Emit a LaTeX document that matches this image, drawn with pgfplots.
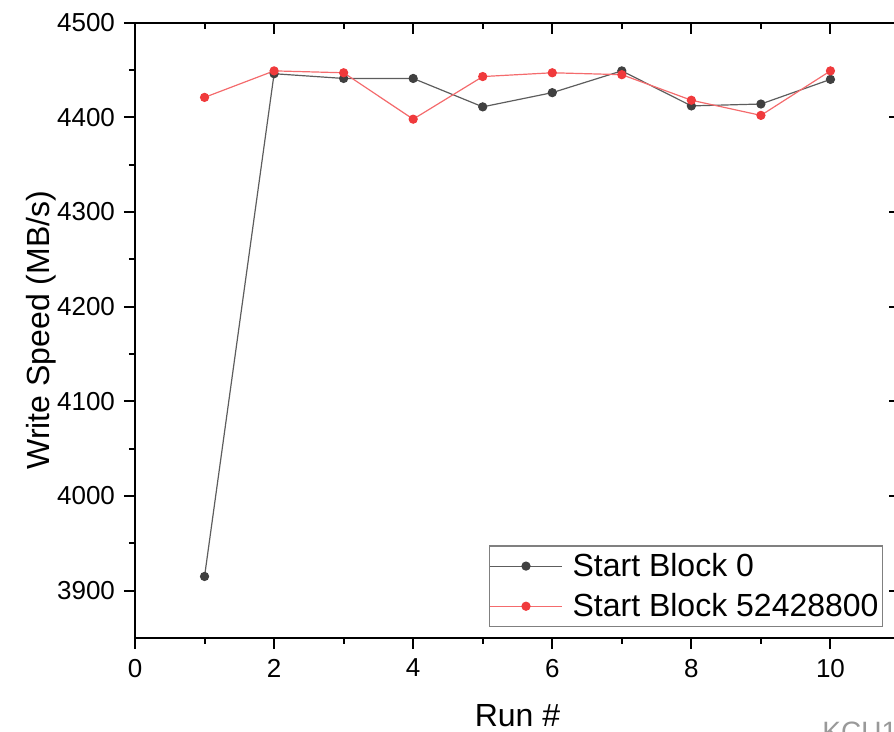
\documentclass[border=0pt]{standalone}
\usepackage{fontspec}
\setmainfont{Liberation Sans}
\usepackage{pgfplots}
\pgfplotsset{compat=1.18}
\definecolor{darkgrey}{RGB}{64,64,64}
\definecolor{runred}{RGB}{240,58,60}

% write speed per run, MB/s
\pgfplotstableread{
run block0 block524
1  3915 4421
2  4446 4449
3  4441 4447
4  4441 4398
5  4411 4443
6  4426 4447
7  4449 4445
8  4412 4418
9  4414 4402
10 4440 4449
}\speeds

\begin{document}
\begin{tikzpicture}
\pgfplotsset{
    frame/.style={
        scale only axis, width=382.5bp, height=307.7bp,
        xmin=0, xmax=11, ymin=3850, ymax=4500,
        xtick={0,2,...,10}, ytick={3900,4000,...,4500},
        minor x tick num=1, minor y tick num=1,
        axis line style={line width=1bp},
        every tick/.style={line width=1bp, black},
        major tick length=5.5bp, minor tick length=3bp,
    }
}
% mirrored top and right edges, ticks pointing in
\begin{axis}[frame, axis x line*=top, axis y line*=right,
    tick align=inside, xticklabels={}, yticklabels={}]
\end{axis}
\begin{axis}[frame, axis x line*=bottom, axis y line*=left,
    tick align=outside,
    /pgf/number format/assume math mode=true,
    /pgf/number format/1000 sep={},
    ticklabel style={font=\fontsize{13bp}{15bp}\selectfont},
    xticklabel style={yshift=-1.5bp},
    yticklabel style={xshift=-1bp},
    xlabel={Run \#}, ylabel={Write Speed (MB/s)},
    label style={font=\fontsize{16bp}{19bp}\selectfont},
    xlabel style={at={([yshift=-44bp]axis description cs:0.5,0)}, anchor=base},
    ylabel style={at={([xshift=-42.5bp]axis description cs:0,0.5)}, anchor=base},
    legend style={at={(0.978,0.018)}, anchor=south east, draw=gray,
        line width=0.6bp, font=\fontsize{16bp}{19bp}\selectfont,
        inner xsep=0bp, inner ysep=1.5bp, row sep=3bp},
    legend cell align=left,
    legend image code/.code={
        \draw[mark repeat=2, mark phase=2] plot coordinates {(-1bp,0bp) (17bp,0bp) (35bp,0bp)};
        \path (38bp,0bp);
    },
]
\addplot[draw=darkgrey!85, line width=0.6bp, mark=*, mark size=2bp,
    mark options={draw=darkgrey, fill=darkgrey}]
    table[x=run, y=block0] {\speeds};
\addlegendentry{Start Block 0}
\addplot[draw=runred!75, line width=0.6bp, mark=*, mark size=2bp,
    mark options={draw=runred, fill=runred}]
    table[x=run, y=block524] {\speeds};
\addlegendentry{Start Block 52428800}
\end{axis}
\node[anchor=north west, inner sep=0, text=gray!80,
    font=\fontsize{14bp}{16bp}\selectfont] at (343.5bp,-42bp) {KCU105};
\pgfresetboundingbox
\path[use as bounding box] (-67.5bp,-47bp) rectangle (379.5bp,319bp);
\end{tikzpicture}
\end{document}
